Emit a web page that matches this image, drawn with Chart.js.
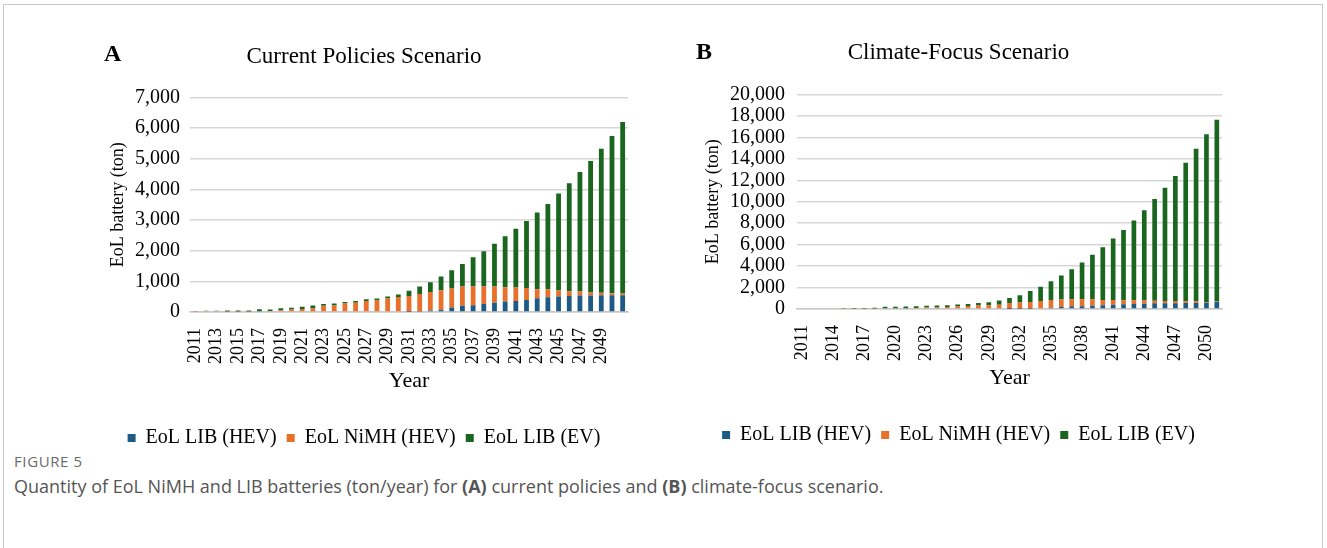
<!DOCTYPE html>
<html>
<head>
<meta charset="utf-8">
<script src="https://cdn.jsdelivr.net/npm/chart.js@4.4.0/dist/chart.umd.min.js"></script>
<style>
  body { margin:0; background:#fff; width:1327px; height:548px; overflow:hidden; position:relative; }
  #frame { position:absolute; left:3px; top:4px; width:1320px; height:560px; border:1px solid #c9c9c9; box-sizing:border-box; }
  .panel { position:absolute; top:30px; height:430px; }
  .letter { position:absolute; font-family:"Liberation Serif", serif; font-weight:bold; font-size:24px; color:#000; }
  .figno { position:absolute; left:14px; top:451px; font-family:"Open Sans", sans-serif; font-size:15px; letter-spacing:0.6px; color:#6b6b6b; }
  .caption { position:absolute; left:14px; top:474px; font-family:"Open Sans", sans-serif; font-size:18px; color:#555; }
</style>
</head>
<body>
<div id="frame"></div>
<div class="panel" style="left:100px;width:540px"><canvas id="chartA" width="540" height="430"></canvas></div>
<div class="panel" style="left:695px;width:545px"><canvas id="chartB" width="545" height="430"></canvas></div>
<div class="letter" style="left:104px;top:40px">A</div>
<div class="letter" style="left:696px;top:38px">B</div>
<div class="figno">FIGURE 5</div>
<div class="caption">Quantity of EoL NiMH and LIB batteries (ton/year) for <b>(A)</b> current policies and <b>(B)</b> climate-focus scenario.</div>
<script>
const years = ['2011','2012','2013','2014','2015','2016','2017','2018','2019','2020',
  '2021','2022','2023','2024','2025','2026','2027','2028','2029','2030',
  '2031','2032','2033','2034','2035','2036','2037','2038','2039','2040',
  '2041','2042','2043','2044','2045','2046','2047','2048','2049','2050','2051'];

const seriesNames = ['EoL LIB (HEV)', 'EoL NiMH (HEV)', 'EoL LIB (EV)'];

// Current Policies Scenario (ton)
const cpLibHev = [0,0,0,0,0,0,0,0,0,0, 0,0,0,0,0,0,0,0,0,0,
  5,20,50,70,150,200,220,265,300,340, 360,395,445,480,505,525,540,540,545,545,550];
const cpNimhHev = [10,35,35,20,20,20,25,30,60,80, 100,120,200,210,275,300,360,375,440,490,
  520,570,600,640,620,630,615,570,530,470, 440,385,300,265,200,150,130,100,80,70,50];
const cpLibEv = [0,5,5,25,25,30,65,55,60,60, 75,90,65,65,55,60,60,65,65,85,
  165,245,325,450,590,740,955,1145,1400,1660, 1920,2190,2505,2785,3165,3525,3900,4290,4705,5135,5600];

// Climate-Focus Scenario (ton)
const cfLibHev = [0,0,0,0,0,0,0,0,0,0, 0,0,0,0,0,0,0,0,0,0,
  10,20,30,60,120,190,250,260,310,340, 400,440,470,500,530,535,540,560,570,590,650];
const cfNimhHev = [60,70,70,60,50,40,40,40,60,70, 80,100,130,150,190,230,270,320,360,400,
  560,590,620,680,720,685,650,650,590,500, 440,370,340,310,250,220,210,160,150,70,50];
const cfLibEv = [0,0,0,20,30,50,60,80,140,140, 150,160,170,170,170,190,190,230,270,400,
  450,670,1020,1330,1750,2245,2800,3420,4150,4910, 5740,6560,7440,8410,9470,10545,11650,12930,14230,15640,16950];

const colors = ['#1d5a85', '#e8702a', '#1a661f'];
const serif = '"Liberation Serif", "Times New Roman", serif';

function makeChart(id, title, data, yMax, yStep, labelEvery, lastHidden, pad) {
  const ds = data.map((d, i) => ({
    label: seriesNames[i], data: d, backgroundColor: colors[i],
    borderWidth: 0, barPercentage: 0.45, categoryPercentage: 1
  }));
  return new Chart(document.getElementById(id), {
    type: 'bar',
    data: { labels: years, datasets: ds },
    options: {
      responsive: false, animation: false,
      layout: { padding: { left: 0, right: pad.right, top: 0, bottom: pad.bottom } },
      plugins: {
        tooltip: { enabled: false },
        title: { display: true, text: title, color: '#000',
          font: { family: serif, size: 23, weight: 'normal' },
          padding: { top: pad.titleTop, bottom: pad.titleBottom } },
        legend: { position: 'bottom',
          labels: { color: '#000', boxWidth: 8, boxHeight: 8, padding: 10,
            font: { family: serif, size: 20 } } }
      },
      scales: {
        x: {
          stacked: true,
          grid: { display: false },
          border: { color: '#c8c8c8', width: 1.5 },
          ticks: {
            autoSkip: false, maxRotation: 90, minRotation: 90, padding: 8, color: '#000',
            font: { family: serif, size: 18 },
            callback: (v, i) => (i % labelEvery === 0 && !(lastHidden && i === years.length - 1)) ? years[i] : ''
          },
          title: { display: true, text: 'Year', color: '#000',
            font: { family: serif, size: 22 }, padding: { top: 0, bottom: pad.yearBottom } },
          afterFit: s => { s.height = pad.xHeight; s.paddingLeft = 0; s.paddingRight = 0; }
        },
        y: {
          stacked: true, min: 0, max: yMax,
          grid: { color: '#d6d6d6', lineWidth: 1.5, drawTicks: false },
          border: { display: false },
          ticks: { stepSize: yStep, autoSkip: false, padding: pad.tickPad, color: '#000',
            font: { family: serif, size: 20 } },
          title: { display: true, text: 'EoL battery (ton)', color: '#000',
            font: { family: serif, size: 18 }, padding: { top: 7, bottom: 0 } },
          afterFit: s => { s.width = pad.yWidth; }
        }
      }
    }
  });
}

makeChart('chartA', 'Current Policies Scenario', [cpLibHev, cpNimhHev, cpLibEv], 7000, 1000, 2, true,
  { right: 12, bottom: 2, titleTop: 13, titleBottom: 27, xHeight: 106, yearBottom: 24, yWidth: 90, tickPad: 10 });
makeChart('chartB', 'Climate-Focus Scenario', [cfLibHev, cfNimhHev, cfLibEv], 20000, 2000, 3, false,
  { right: 18, bottom: 5, titleTop: 9, titleBottom: 28, xHeight: 106, yearBottom: 24, yWidth: 102, tickPad: 12 });
</script>
</body>
</html>
